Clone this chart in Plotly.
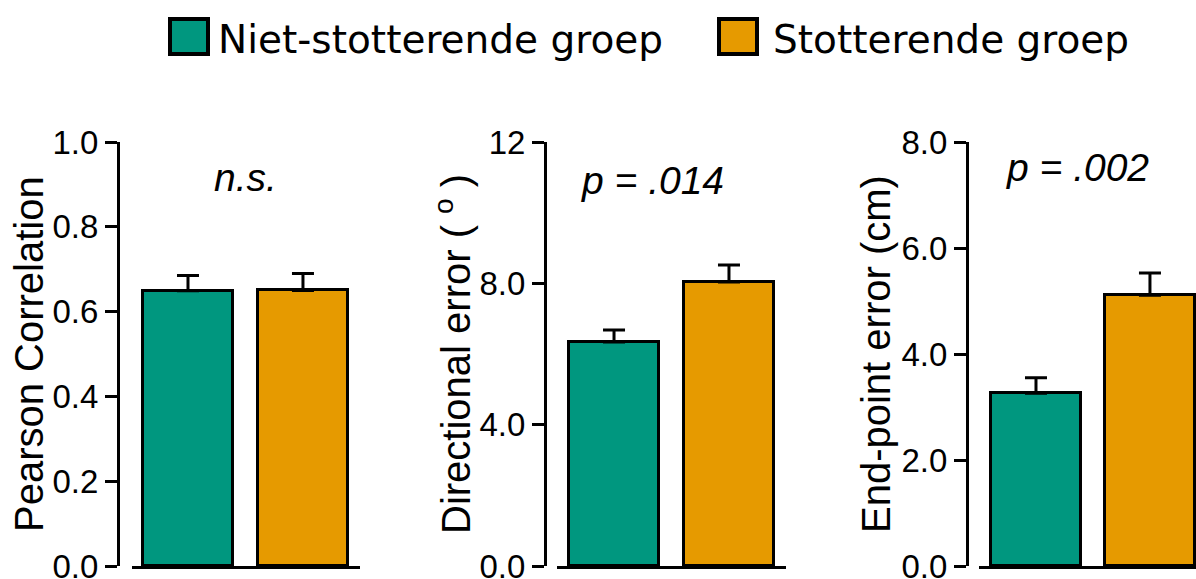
import plotly.graph_objects as go

# ---- data ----
groups = ["Niet-stotterende groep", "Stotterende groep"]
colors = ["#00977F", "#E69A00"]

pearson = [0.649, 0.650]
pearson_err = [0.036, 0.040]
pearson_ticks = [0, 0.2, 0.4, 0.6, 0.8, 1.0]
pearson_ticktext = ["0.0", "0.2", "0.4", "0.6", "0.8", "1.0"]

directional = [6.34, 8.04]
directional_err = [0.34, 0.48]
directional_ticks = [0, 4, 8, 12]
directional_ticktext = ["0.0", "4.0", "8.0", "12"]

endpoint = [3.26, 5.11]
endpoint_err = [0.29, 0.42]
endpoint_ticks = [0, 2, 4, 6, 8]
endpoint_ticktext = ["0.0", "2.0", "4.0", "6.0", "8.0"]

titles = ["Pearson Correlation", "Directional error ( <sup>o</sup> )", "End-point error (cm)"]
stats = ["<i>n.s.</i>", "<i>p = .014</i>", "<i>p = .002</i>"]

W, H = 1196, 579
def px(x):
    return x / W
def py(y):
    return 1 - y / H

TICKFONT = dict(family="Liberation Sans, Arial", size=33, color="black")
TITLEFONT = dict(family="Liberation Sans, Arial", size=40, color="black")
STATFONT = dict(family="Liberation Sans, Arial", size=39, color="black")
LEGFONT = dict(family="DejaVu Sans", size=39, color="black")

panels = [
    dict(vals=pearson, err=pearson_err, ticks=pearson_ticks, ticktext=pearson_ticktext,
         ymax=1.0, xdom=(132, 360), xr=(-0.487, 1.496), ypos=118, bw=0.783,
         title_x=29, stat_x=245, stat_y=177),
    dict(vals=directional, err=directional_err, ticks=directional_ticks, ticktext=directional_ticktext,
         ymax=12, xdom=(557, 786), xr=(-0.496, 1.496), ypos=545, bw=0.783,
         title_x=453, stat_x=652, stat_y=180),
    dict(vals=endpoint, err=endpoint_err, ticks=endpoint_ticks, ticktext=endpoint_ticktext,
         ymax=8.0, xdom=(979, 1196), xr=(-0.5, 1.404), ypos=967, bw=0.79,
         title_x=876, stat_x=1077, stat_y=167),
]

fig = go.Figure()
layout = dict(
    width=W, height=H, template="none",
    margin=dict(l=0, r=0, t=0, b=0),
    paper_bgcolor="white", plot_bgcolor="white",
    showlegend=False, bargap=0,
)
annotations = []
shapes = []
ydom = [py(566), py(142)]

for i, p in enumerate(panels):
    sfx = "" if i == 0 else str(i + 1)
    fig.add_trace(go.Bar(
        x=[0, 1], y=p["vals"], width=p["bw"],
        marker=dict(color=colors, line=dict(color="black", width=3)),
        error_y=dict(type="data", symmetric=False, array=p["err"], arrayminus=[0, 0],
                     thickness=3, width=11, color="black"),
        xaxis="x" + sfx, yaxis="y" + sfx, hoverinfo="skip",
    ))
    layout["xaxis" + sfx] = dict(
        domain=[px(p["xdom"][0]), px(p["xdom"][1])], range=list(p["xr"]),
        anchor="y" + sfx, showline=True, linewidth=3, linecolor="black",
        showticklabels=False, ticks="", showgrid=False, zeroline=False, automargin=False,
    )
    layout["yaxis" + sfx] = dict(
        domain=ydom, range=[0, p["ymax"]], anchor="free", position=px(p["ypos"]),
        showline=True, linewidth=3, linecolor="black",
        ticks="outside", ticklen=12, tickwidth=3, tickcolor="black",
        tickvals=p["ticks"], ticktext=p["ticktext"], tickfont=TICKFONT,
        ticklabeloverflow="allow",
        showgrid=False, zeroline=False, automargin=False,
    )
    annotations.append(dict(
        text=titles[i], xref="paper", yref="paper", x=px(p["title_x"]), y=py(354),
        xanchor="center", yanchor="middle", textangle=-90, showarrow=False, font=TITLEFONT,
    ))
    annotations.append(dict(
        text=stats[i], xref="paper", yref="paper", x=px(p["stat_x"]), y=py(p["stat_y"]),
        xanchor="center", yanchor="middle", showarrow=False, font=STATFONT,
    ))

# manual legend
leg_items = [(168, 210, 216), (717, 759, 771)]
for (x0, x1, tx), name, col in zip(leg_items, groups, colors):
    shapes.append(dict(type="rect", xref="paper", yref="paper",
                       x0=px(x0 + 2), x1=px(x1 - 2), y0=py(54), y1=py(19),
                       fillcolor=col, line=dict(color="black", width=4)))
    annotations.append(dict(
        text=name, xref="paper", yref="paper", x=px(tx), y=py(39),
        xanchor="left", yanchor="middle", showarrow=False, font=LEGFONT,
    ))

layout["annotations"] = annotations
layout["shapes"] = shapes
fig.update_layout(**layout)
fig.write_html("out.html", config={"displayModeBar": False},
               post_script="document.body.style.margin='0';document.body.style.overflow='hidden';")
